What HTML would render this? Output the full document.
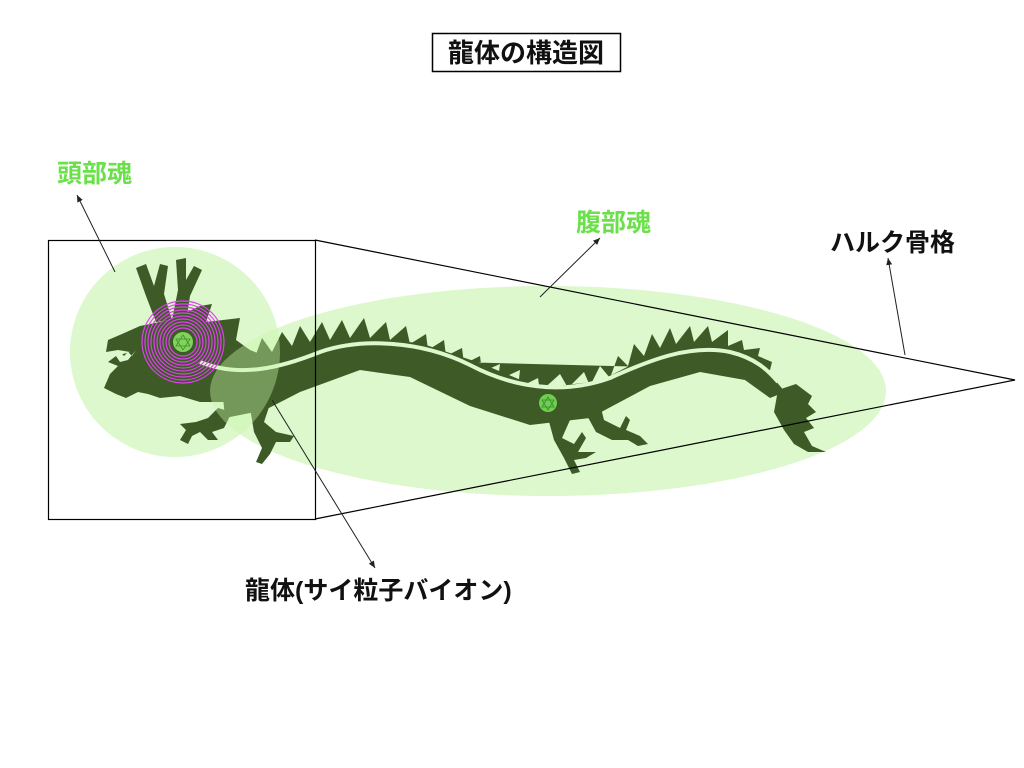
<!DOCTYPE html>
<html><head><meta charset="utf-8"><style>
body{margin:0;background:#fff;}
svg{display:block}
text{font-family:"Liberation Sans","Noto Sans CJK JP",sans-serif;font-weight:bold}
</style></head><body>
<svg width="1024" height="768" viewBox="0 0 1024 768" xmlns="http://www.w3.org/2000/svg">
<defs>
<marker id="ah" markerWidth="8" markerHeight="8" refX="7" refY="4" orient="auto" markerUnits="userSpaceOnUse">
<path d="M0,1 L7,4 L0,7 Z" fill="#222"/></marker>
<clipPath id="hc"><circle cx="175" cy="352" r="105"/></clipPath>
</defs>
<!-- title -->
<rect x="432.5" y="33.5" width="188" height="38" fill="#fff" stroke="#000" stroke-width="1.5"/>
<text x="526" y="62" font-size="26" text-anchor="middle" fill="#111">龍体の構造図</text>

<!-- soul glows (behind) -->
<circle cx="175" cy="352" r="105" fill="#dcf8cc"/>
<ellipse cx="548" cy="391" rx="338" ry="105" fill="#dcf8cc"/>

<!-- dragon -->
<g fill="#3d5a27">
<path d="M156,322 L146,296 L136,268 L146,264 L154,286 L160,264 L168,266 L164,294 L172,320 Z"/>
<path d="M172,320 L178,290 L176,260 L186,258 L186,280 L194,266 L202,270 L190,296 L186,322 Z"/>
<path d="M108,340 L122,334 L140,326 L170,320 L200,306 L212,304 L206,322 L240,318 L236,340 L250,350 L270,358 L240,382 L230,402 L200,402 L180,396 L160,398 L148,394 L138,392 L126,398 L116,394 L104,388 L110,374 L118,366 L108,362 L116,356 L130,352 L118,350 L106,352 Z"/>
<path d="M220,365 L260,356 L300,345 L360,338 L420,343 L480,363 L540,388 L600,381 L660,350 L720,347 L760,362 L785,392 L770,398 L745,380 L700,372 L650,386 L590,418 L530,425 L470,406 L410,377 L360,370 L300,392 L265,410 L225,418 Z"/>
<path d="M255,357 L262,338 L272,352 L282,332 L292,346 L300,326 L310,342 L322,322 L330,340 L342,320 L350,338 L364,318 L370,338 L386,322 L390,340 L406,326 L410,344 L426,334 L428,350 L444,340 L446,356 L462,348 L464,364 L480,356 L482,372 L500,364 L498,380 L520,370 L518,388 L538,378 L540,392 L560,374 L568,388 L584,372 L590,386 L600,366 L610,378 L618,356 L628,366 L634,344 L644,356 L652,334 L660,348 L670,328 L676,344 L690,326 L694,342 L708,326 L712,342 L728,330 L728,346 L742,340 L744,350 L760,348 L758,356 L772,362 L770,370 Z"/>
<path d="M778,390 L796,384 L812,396 L808,404 L816,412 L806,418 L814,428 L804,432 L812,446 L826,452 L808,452 L794,444 L784,430 L774,412 Z"/>
<path d="M218,408 L232,412 L224,428 L212,432 L218,440 L208,440 L200,432 L192,436 L188,444 L180,440 L186,430 L180,424 L196,422 L208,418 Z"/>
<path d="M250,408 L270,404 L264,422 L276,432 L294,436 L290,442 L276,442 L270,454 L262,464 L256,462 L262,448 L254,432 Z"/>
<path d="M548,418 L570,420 L562,438 L574,444 L582,432 L586,438 L578,452 L596,452 L586,458 L574,460 L580,472 L572,474 L564,458 L554,440 Z"/>
<path d="M584,410 L600,404 L604,420 L620,428 L626,416 L630,420 L626,430 L640,436 L648,444 L638,446 L628,440 L612,440 L596,432 Z"/>
</g>
<path d="M116,356 L120,352 L124,356 L128,352 L132,356 L136,350 L128,360 L120,362 Z" fill="#dcf8cc"/>
<path d="M200,362 C240,378 280,368 320,352 C360,338 420,340 470,365 C510,386 560,396 610,378 C650,360 690,344 730,352 C755,358 768,370 778,382" fill="none" stroke="#dcf8cc" stroke-width="4"/>

<!-- overlap lens lighter -->
<ellipse cx="548" cy="391" rx="338" ry="105" fill="#c8f5a8" fill-opacity="0.4" clip-path="url(#hc)"/>

<!-- rings -->
<g fill="none" stroke="#e040f0" stroke-width="1.2">
<circle cx="183" cy="342" r="14"/><circle cx="183" cy="342" r="17"/><circle cx="183" cy="342" r="20"/>
<circle cx="183" cy="342" r="23"/><circle cx="183" cy="342" r="26"/><circle cx="183" cy="342" r="29"/>
<circle cx="183" cy="342" r="32"/><circle cx="183" cy="342" r="35"/><circle cx="183" cy="342" r="38"/>
<circle cx="183" cy="342" r="41"/>
</g>
<circle cx="183" cy="342" r="10" fill="#7fd45a"/>
<path d="M183,335 L190,346 L176,346 Z M176,339 L190,339 L183,350 Z" fill="none" stroke="#4a8a33" stroke-width="0.8"/>
<circle cx="548" cy="403" r="9" fill="#6fcf50"/>
<path d="M548,397 L554,407 L542,407 Z M542,400 L554,400 L548,410 Z" fill="none" stroke="#3a8a2a" stroke-width="0.8"/>

<!-- hull -->
<rect x="48.5" y="240.5" width="267" height="279" fill="none" stroke="#000" stroke-width="1.2"/>
<path d="M315,240 L1015,380 L315,519" fill="none" stroke="#000" stroke-width="1.2"/>

<!-- labels & arrows -->
<text x="57" y="182" font-size="25" fill="#6be04a">頭部魂</text>
<line x1="115" y1="272" x2="77" y2="195" stroke="#222" stroke-width="1" marker-end="url(#ah)"/>
<text x="576" y="231" font-size="25" fill="#6be04a">腹部魂</text>
<line x1="540" y1="297" x2="600" y2="238" stroke="#222" stroke-width="1" marker-end="url(#ah)"/>
<text x="830" y="251" font-size="25" fill="#111">ハルク骨格</text>
<line x1="905" y1="355" x2="888" y2="258" stroke="#222" stroke-width="1" marker-end="url(#ah)"/>
<text x="245" y="599" font-size="25" fill="#111">龍体(サイ粒子バイオン)</text>
<line x1="272" y1="400" x2="375" y2="568" stroke="#222" stroke-width="1" marker-end="url(#ah)"/>
</svg>
</body></html>
